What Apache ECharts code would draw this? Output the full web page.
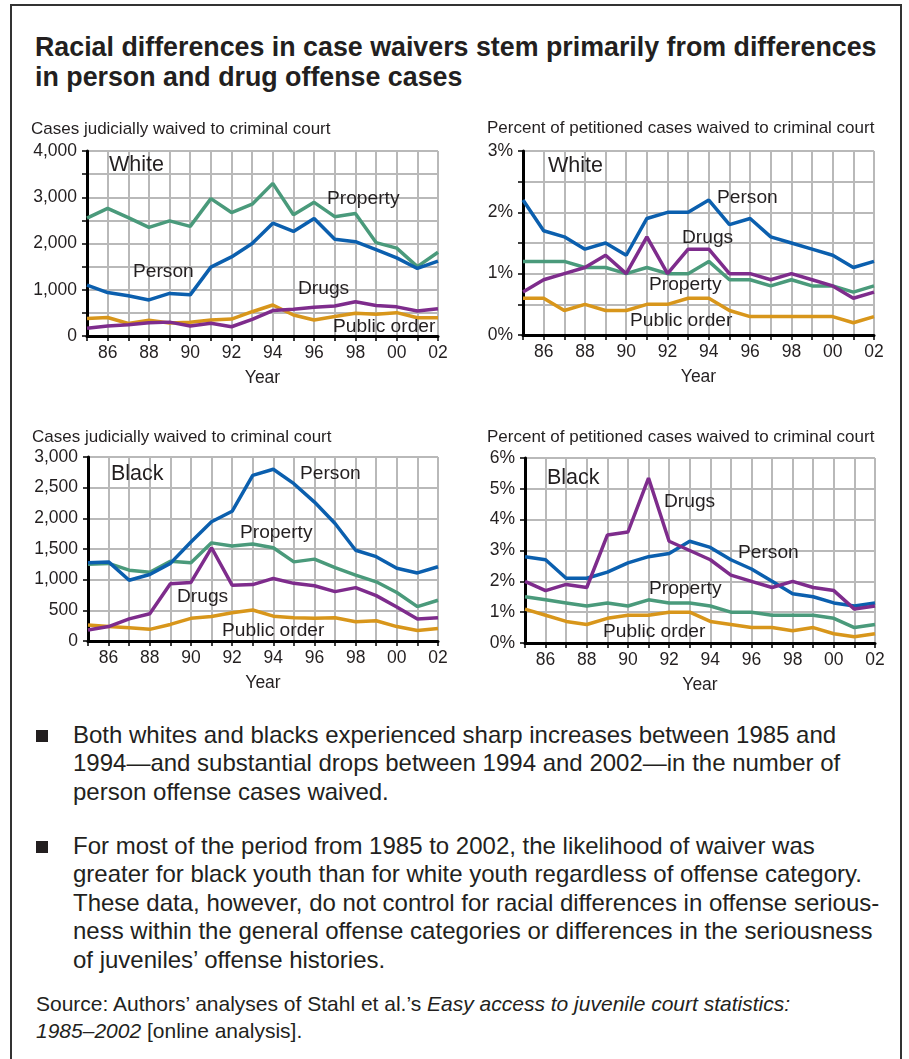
<!DOCTYPE html>
<html><head><meta charset="utf-8">
<script src="https://cdn.jsdelivr.net/npm/echarts@6/dist/echarts.min.js"></script>
<style>
html,body{margin:0;padding:0;background:#fff;}
body{width:909px;height:1059px;position:relative;overflow:hidden;font-family:"Liberation Sans",Arial,Helvetica,sans-serif;color:#231f20;}
#frame{position:absolute;left:10px;top:4px;width:888px;height:1100px;border:2px solid #333;border-bottom:none;}
#title{position:absolute;left:35px;top:32px;font-weight:bold;font-size:26.8px;line-height:30px;white-space:nowrap;}
#chart{position:absolute;left:0;top:0;width:909px;height:1059px;}
.b{position:absolute;left:73px;font-size:24px;line-height:28.4px;white-space:nowrap;}
.sq{position:absolute;left:36px;width:12px;height:12px;background:#231f20;}
#src{position:absolute;left:36px;top:990px;font-size:21px;line-height:27px;white-space:nowrap;}
</style></head>
<body>
<div id="frame"></div>
<div id="title">Racial differences in case waivers stem primarily from differences<br>in person and drug offense cases</div>
<div class="sq" style="top:730px"></div>
<div class="b" style="top:721px">Both whites and blacks experienced sharp increases between 1985 and<br>1994—and substantial drops between 1994 and 2002—in the number of<br>person offense cases waived.</div>
<div class="sq" style="top:841px"></div>
<div class="b" style="top:832px">For most of the period from 1985 to 2002, the likelihood of waiver was<br>greater for black youth than for white youth regardless of offense category.<br>These data, however, do not control for racial differences in offense serious-<br>ness within the general offense categories or differences in the seriousness<br>of juveniles’ offense histories.</div>
<div id="src">Source: Authors’ analyses of Stahl et al.’s <i>Easy access to juvenile court statistics:</i><br><i>1985–2002</i> [online analysis].</div>
<div id="chart"></div>
<script>
const years = [1985,1986,1987,1988,1989,1990,1991,1992,1993,1994,1995,1996,1997,1998,1999,2000,2001,2002];

const whiteCountProperty = [2550,2760,2560,2350,2490,2370,2970,2670,2850,3300,2620,2890,2580,2650,2020,1900,1500,1810];
const whiteCountPerson   = [1100,940,870,780,920,890,1490,1710,2000,2440,2260,2540,2090,2040,1870,1690,1460,1620];
const whiteCountDrugs    = [170,215,245,285,300,215,275,200,360,550,580,620,650,740,660,630,540,590];
const whiteCountOrder    = [380,400,270,340,280,295,345,365,525,670,455,345,420,490,470,505,395,395];

const whitePctPerson   = [2.2,1.7,1.6,1.4,1.5,1.3,1.9,2.0,2.0,2.2,1.8,1.9,1.6,1.5,1.4,1.3,1.1,1.2];
const whitePctDrugs    = [0.7,0.9,1.0,1.1,1.3,1.0,1.6,1.0,1.4,1.4,1.0,1.0,0.9,1.0,0.9,0.8,0.6,0.7];
const whitePctProperty = [1.2,1.2,1.2,1.1,1.1,1.0,1.1,1.0,1.0,1.2,0.9,0.9,0.8,0.9,0.8,0.8,0.7,0.8];
const whitePctOrder    = [0.6,0.6,0.4,0.5,0.4,0.4,0.5,0.5,0.6,0.6,0.4,0.3,0.3,0.3,0.3,0.3,0.2,0.3];

const blackCountPerson   = [1275,1290,990,1085,1265,1615,1945,2115,2700,2800,2565,2265,1915,1480,1375,1185,1110,1210];
const blackCountProperty = [1250,1265,1155,1120,1300,1275,1600,1550,1580,1520,1290,1335,1195,1075,965,790,560,665];
const blackCountDrugs    = [180,235,360,445,935,955,1520,910,920,1020,940,900,805,870,740,555,360,380];
const blackCountOrder    = [260,235,215,190,270,370,400,460,505,405,380,370,380,315,330,235,170,205];

const blackPctPerson   = [2.8,2.7,2.1,2.1,2.3,2.6,2.8,2.9,3.3,3.1,2.7,2.4,2.0,1.6,1.5,1.3,1.2,1.3];
const blackPctDrugs    = [2.0,1.7,1.9,1.8,3.5,3.6,5.35,3.3,3.0,2.7,2.2,2.0,1.8,2.0,1.8,1.7,1.1,1.2];
const blackPctProperty = [1.5,1.4,1.3,1.2,1.3,1.2,1.4,1.3,1.3,1.2,1.0,1.0,0.9,0.9,0.9,0.8,0.5,0.6];
const blackPctOrder    = [1.1,0.9,0.7,0.6,0.8,0.9,0.9,1.0,1.0,0.7,0.6,0.5,0.5,0.4,0.5,0.3,0.2,0.3];

const FONT = '"Liberation Sans", Arial, Helvetica, sans-serif';
const TXT = '#231f20';
const COL = {person:'#0b5fae', property:'#4a9a7b', drugs:'#7e2c8c', order:'#d8961b'};

const grids = [
  {left:87, top:151, width:351, height:185},
  {left:523, top:151, width:351, height:184},
  {left:88, top:457, width:350, height:184},
  {left:525, top:458, width:350, height:185}
];

function xAxis(i){
  return {
    type:'value', gridIndex:i, min:1985, max:2002, interval:1,
    axisLine:{show:true, onZero:false, lineStyle:{color:'#000', width:3}},
    axisTick:{show:true, length:5, lineStyle:{color:'#000', width:1.5}},
    axisLabel:{formatter:v => (v % 2 === 0 ? String(v % 100).padStart(2,'0') : ''), fontSize:17.5, color:TXT, margin:8, fontFamily:FONT},
    splitLine:{show:true, lineStyle:{color:'#b9b9b9', width:2}},
    name:'Year', nameLocation:'middle', nameGap:33,
    nameTextStyle:{fontSize:17.5, color:TXT, fontFamily:FONT}
  };
}
function yAxis(i, max, interval, fmt){
  return {
    type:'value', gridIndex:i, min:0, max:max, interval:interval,
    axisLine:{show:true, lineStyle:{color:'#000', width:3}},
    axisTick:{show:true, length:5, lineStyle:{color:'#000', width:1.5}},
    axisLabel:{formatter:fmt, fontSize:17.5, color:TXT, margin:10, fontFamily:FONT},
    splitLine:{show:true, lineStyle:{color:'#b9b9b9', width:2}}
  };
}
const fmtComma = v => v.toLocaleString('en-US');

function line(i, arr, color, name){
  return {
    type:'line', name:name, xAxisIndex:i, yAxisIndex:i,
    data: years.map((y,k)=>[y, arr[k]]),
    symbol:'none', lineStyle:{color:color, width:3.5}, itemStyle:{color:color},
    silent:true, animation:false
  };
}

const series = [
  line(0, whiteCountProperty, COL.property, 'Property'),
  line(0, whiteCountPerson, COL.person, 'Person'),
  line(0, whiteCountOrder, COL.order, 'Public order'),
  line(0, whiteCountDrugs, COL.drugs, 'Drugs'),
  line(1, whitePctProperty, COL.property, 'Property'),
  line(1, whitePctOrder, COL.order, 'Public order'),
  line(1, whitePctDrugs, COL.drugs, 'Drugs'),
  line(1, whitePctPerson, COL.person, 'Person'),
  line(2, blackCountOrder, COL.order, 'Public order'),
  line(2, blackCountDrugs, COL.drugs, 'Drugs'),
  line(2, blackCountProperty, COL.property, 'Property'),
  line(2, blackCountPerson, COL.person, 'Person'),
  line(3, blackPctOrder, COL.order, 'Public order'),
  line(3, blackPctProperty, COL.property, 'Property'),
  line(3, blackPctPerson, COL.person, 'Person'),
  line(3, blackPctDrugs, COL.drugs, 'Drugs')
];

// text annotations: [text, left x, center y, font size]
const notes = [
  ['Cases judicially waived to criminal court', 31, 129, 17],
  ['Percent of petitioned cases waived to criminal court', 487, 128, 17],
  ['Cases judicially waived to criminal court', 32, 437, 17],
  ['Percent of petitioned cases waived to criminal court', 487, 437, 17],
  ['White', 109, 165, 21.5], ['Property', 327, 199, 19.2], ['Person', 133, 272, 19.2], ['Drugs', 298, 289, 19.2], ['Public order', 333, 327, 19.2],
  ['White', 548, 166, 21.5], ['Person', 717, 198, 19.2], ['Drugs', 682, 238, 19.2], ['Property', 649, 285, 19.2], ['Public order', 630, 321, 19.2],
  ['Black', 111, 474, 21.5], ['Person', 300, 474, 19.2], ['Property', 240, 533, 19.2], ['Drugs', 177, 597, 19.2], ['Public order', 222, 631, 19.2],
  ['Black', 547, 478, 21.5], ['Drugs', 664, 502, 19.2], ['Person', 738, 553, 19.2], ['Property', 649, 589, 19.2], ['Public order', 603, 632, 19.2]
];

const chart = echarts.init(document.getElementById('chart'), null, {renderer:'canvas'});
chart.setOption({
  animation:false,
  backgroundColor:'transparent',
  grid: grids,
  xAxis: [xAxis(0), xAxis(1), xAxis(2), xAxis(3)],
  yAxis: [
    yAxis(0, 4000, 500, v => (v % 1000 === 0 ? fmtComma(v) : '')),
    yAxis(1, 3, 0.5, v => (Number.isInteger(v) ? v + '%' : '')),
    yAxis(2, 3000, 500, fmtComma),
    yAxis(3, 6, 1, v => v + '%')
  ],
  series: series,
  graphic: notes.map(n => ({
    type:'text', x:n[1], y:n[2], silent:true, z:100,
    style:{text:n[0], fill:TXT, font:n[3] + 'px ' + FONT, verticalAlign:'middle', align:'left'}
  }))
});
</script>
</body></html>
